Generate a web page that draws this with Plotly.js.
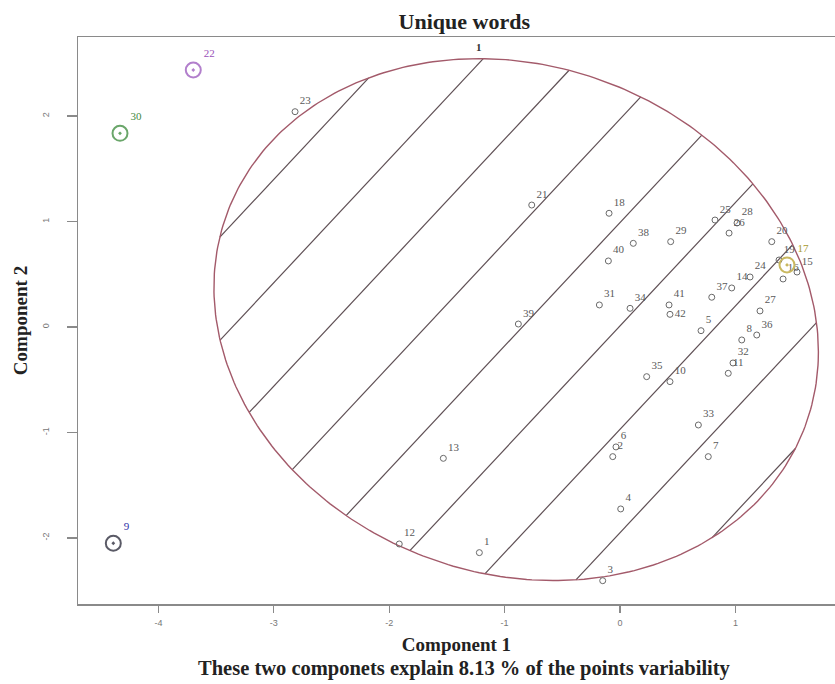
<!DOCTYPE html>
<html>
<head>
<meta charset="utf-8">
<script src="https://cdn.plot.ly/plotly-3.0.1.min.js"></script>
<style>html,body{margin:0;padding:0;background:#fff;}#chart{width:835px;height:684px;}</style>
</head>
<body>
<div id="chart"></div>
<script>
// ---- data ----
const pointLabels = ['1','2','3','4','5','6','7','8','10','11','12','13','14','15','16','18','19','20','21','23','24','25','26','27','28','29','31','32','33','34','35','36','37','38','39','40','41','42'];
const comp1 = [-1.219,-0.063,-0.150,0.006,0.702,-0.035,0.765,1.055,0.433,0.938,-1.913,-1.531,0.968,1.534,1.413,-0.095,1.378,1.315,-0.765,-2.816,1.127,0.823,0.945,1.213,1.014,0.439,-0.179,0.979,0.679,0.087,0.231,1.185,0.795,0.115,-0.881,-0.101,0.425,0.433];
const comp2 = [-2.139,-1.229,-2.405,-1.725,-0.035,-1.137,-1.229,-0.123,-0.518,-0.439,-2.057,-1.245,0.370,0.521,0.455,1.078,0.635,0.809,1.156,2.041,0.474,1.014,0.890,0.152,0.986,0.809,0.209,-0.341,-0.929,0.177,-0.471,-0.076,0.282,0.793,0.028,0.626,0.209,0.120];

// single-point clusters
const smallLabels = ['22','30','9','17'];
const smallComp1 = [-3.698,-4.333,-4.391,1.447];
const smallComp2 = [2.436,1.836,-2.050,0.588];

// main cluster ellipse (centre and covariance, as ellipsoidhull gives)
const ellipseCenter = [-0.90, 0.07];
const ellipseCov = [[6.86, -0.80], [-0.80, 6.12]];
const mainClusterLabel = '1';

const xTicks = [-4, -3, -2, -1, 0, 1];
const yTicks = [-2, -1, 0, 1, 2];
const explained = 8.13;

// ---- styles ----
const smallRingColors = ['#b27fcc', '#6aa66a', '#5a5a66', '#c9b860'];
const smallTextColors = ['#9a50b8', '#3f8a3f', '#2e2ea8', '#a89a30'];
const hatchSlope = 1.17, hatchStart = 4.91, hatchGap = 0.98;
const labelPos = pointLabels.map(l => (l === '42' ? 'middle right' : 'top right'));

// ellipse outline from centre + covariance (Cholesky)
const [cx, cy] = ellipseCenter;
const Sxx = ellipseCov[0][0], Sxy = ellipseCov[0][1], Syy = ellipseCov[1][1];
const L11 = Math.sqrt(Sxx), L21 = Sxy / L11, L22 = Math.sqrt(Syy - L21 * L21);
const ex = [], ey = [];
for (let i = 0; i <= 360; i++) {
  const t = i * Math.PI / 180;
  ex.push(cx + L11 * Math.cos(t));
  ey.push(cy + L21 * Math.cos(t) + L22 * Math.sin(t));
}

// hatching: parallel lines clipped to the ellipse
const det = Sxx * Syy - Sxy * Sxy;
const p11 = Syy / det, p12 = -Sxy / det, p22 = Sxx / det;
const hx = [], hy = [];
for (let k = -3; k <= 14; k++) {
  const b = hatchStart - k * hatchGap;
  const m = hatchSlope;
  const e = m * cx + b - cy;
  const A = p11 + 2 * p12 * m + p22 * m * m;
  const B = 2 * p12 * e + 2 * p22 * m * e;
  const C = p22 * e * e - 1;
  const disc = B * B - 4 * A * C;
  if (disc <= 0) continue;
  const d1 = (-B - Math.sqrt(disc)) / (2 * A), d2 = (-B + Math.sqrt(disc)) / (2 * A);
  const x1 = cx + d1, x2 = cx + d2;
  hx.push(x1, x2, null);
  hy.push(m * x1 + b, m * x2 + b, null);
}

const serif = 'Liberation Serif, Times New Roman, serif';

const traces = [
  { type: 'scatter', mode: 'lines', x: hx, y: hy, hoverinfo: 'skip',
    line: { color: '#5e4f54', width: 1.2 }, showlegend: false },
  { type: 'scatter', mode: 'lines', x: ex, y: ey, hoverinfo: 'skip',
    line: { color: '#a35a6a', width: 1.4 }, showlegend: false },
  { type: 'scatter', mode: 'markers+text', x: comp1, y: comp2, text: pointLabels,
    textposition: labelPos, cliponaxis: false,
    textfont: { family: serif, size: 11, color: '#5a5a5a' },
    marker: { symbol: 'circle-open', size: 6, color: '#6a6a6a', line: { width: 1 } },
    showlegend: false },
  { type: 'scatter', mode: 'markers+text', x: smallComp1, y: smallComp2, text: smallLabels,
    textposition: 'top right', cliponaxis: false,
    textfont: { family: serif, size: 11, color: smallTextColors },
    marker: { symbol: 'circle-open-dot', size: 15, color: smallRingColors, line: { width: 2, color: smallRingColors } },
    showlegend: false }
];

const layout = {
  width: 835, height: 684,
  margin: { l: 78, r: 0, t: 37, b: 80 },
  paper_bgcolor: '#ffffff', plot_bgcolor: '#ffffff',
  showlegend: false,
  title: { text: '<b>Unique words</b>', x: 0.556, xref: 'container', xanchor: 'center',
           y: 0.969, yref: 'container', yanchor: 'middle',
           font: { family: serif, size: 22, color: '#222' } },
  xaxis: {
    range: [-4.697, 1.863], tickvals: xTicks, ticktext: xTicks.map(String),
    showgrid: false, zeroline: false, showline: true, mirror: true,
    linecolor: '#8a8a8a', linewidth: 1.5,
    ticks: 'outside', ticklen: 7, tickcolor: '#8a8a8a', tickwidth: 1.2, ticklabelstandoff: 3,
    tickfont: { family: 'Liberation Sans, Arial, sans-serif', size: 9, color: '#777' },
    title: { text: '<b>Component 1</b>', standoff: 10, font: { family: serif, size: 19, color: '#222' } }
  },
  yaxis: {
    range: [-2.626, 2.749], tickvals: yTicks, ticktext: yTicks.map(String),
    showgrid: false, zeroline: false, showline: true, mirror: false,
    linecolor: '#8a8a8a', linewidth: 1.5,
    ticks: 'outside', ticklen: 10, tickcolor: '#8a8a8a', tickwidth: 1.2, tickangle: -90,
    ticklabelstandoff: 14,
    tickfont: { family: 'Liberation Sans, Arial, sans-serif', size: 9, color: '#777' },
    title: { text: '<b>Component 2</b>', standoff: 8, font: { family: serif, size: 19, color: '#222' } }
  },
  annotations: [
    { text: '<b>' + mainClusterLabel + '</b>', xref: 'x', yref: 'y',
      x: cx + Sxy / Math.sqrt(Syy), y: cy + Math.sqrt(Syy), yshift: 12, showarrow: false,
      font: { family: serif, size: 11, color: '#333' } },
    { text: '<b>These two componets explain ' + explained + ' % of the points variability</b>',
      xref: 'paper', yref: 'paper', x: 0.51, y: -0.113, xanchor: 'center', yanchor: 'middle',
      showarrow: false, font: { family: serif, size: 20.5, color: '#222' } }
  ]
};

Plotly.newPlot('chart', traces, layout, { displayModeBar: false, staticPlot: true });
</script>
</body>
</html>
